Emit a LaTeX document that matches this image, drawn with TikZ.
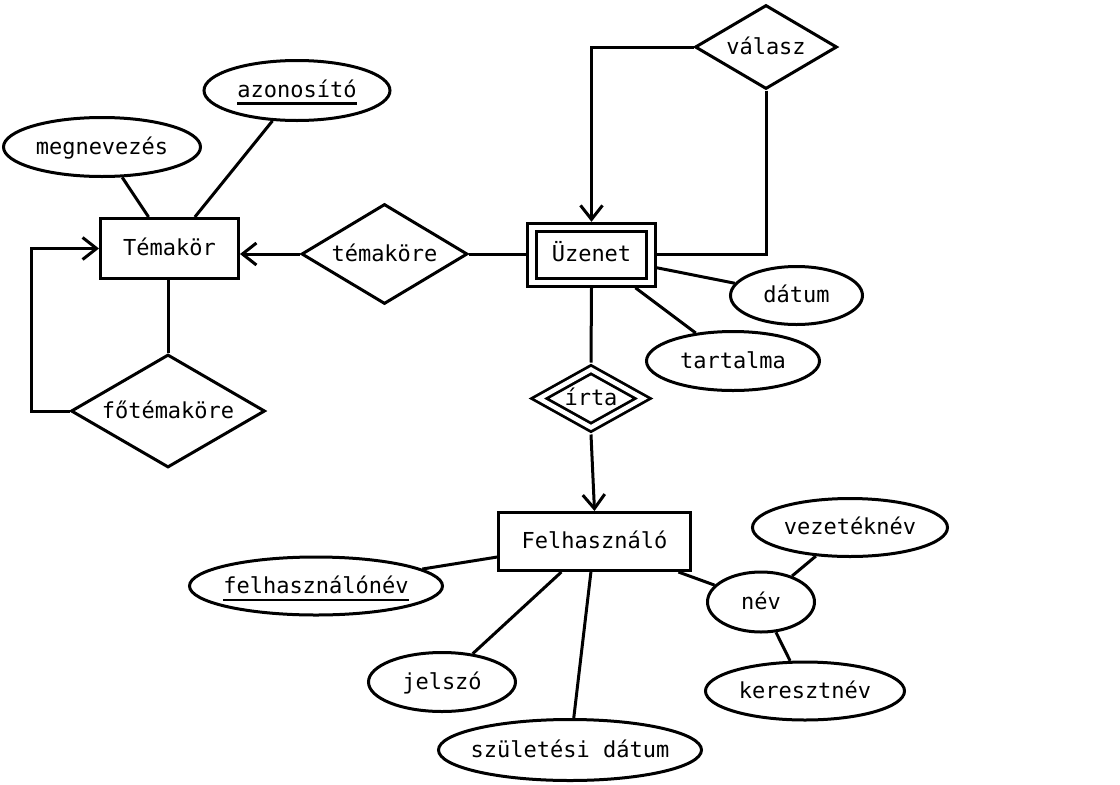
\documentclass[tikz,border=0pt]{standalone}
\usepackage{fontspec}
\newfontfamily\erfont{DejaVu Sans Mono}
\usetikzlibrary{shapes.geometric,arrows.meta,calc}
\begin{document}
\begin{tikzpicture}[x=1pt,y=-1pt,
  lw/.style={line width=3pt},
  every node/.style={font=\erfont\fontsize{22}{26}\selectfont, text height=17pt, text depth=3pt},
  ent/.style={draw, lw, rectangle, inner sep=0pt},
  wkent/.style={draw, line width=3pt, double, double distance=5.3pt, rectangle, inner sep=0pt, outer sep=5.5pt},
  rel/.style={draw, lw, diamond, inner sep=0pt},
  wkrel/.style={draw, line width=2.8pt, double, double distance=4.5pt, diamond, inner sep=0pt, outer sep=5pt},
  attr/.style={draw, lw, ellipse, inner sep=0pt},
  conn/.style={lw},
  arr/.style={-{Straight Barb[length=14pt,width=22pt]}},
  uline/.style={line width=2.5pt},
]
\useasboundingbox (0,0) rectangle (1120,785);

% entities
\node[ent, minimum width=138pt, minimum height=60pt] (tk) at (169.5,248.5) {Témakör};
\node[wkent, minimum width=119pt, minimum height=55pt] (uz) at (591.5,254.8) {Üzenet};
\node[ent, minimum width=192pt, minimum height=58pt] (fe) at (594.5,541.5) {Felhasználó};

% relationships
\node[rel, aspect=1.66, minimum width=166pt, minimum height=100pt] (tm) at (384.5,254) {témaköre};
\node[rel, aspect=1.72, minimum width=194pt, minimum height=113pt] (ft) at (168,411) {főtémaköre};
\node[rel, aspect=1.7, minimum width=142pt, minimum height=84pt] (va) at (766,47) {válasz};
\node[wkrel, aspect=1.73, minimum width=108pt, minimum height=62pt] (ir) at (591,398.5) {írta};

% attributes
\node[attr, minimum width=197pt, minimum height=59pt, label={center:megnevezés}] (mn) at (102,147) {};
\node[attr, minimum width=186pt, minimum height=60pt, label={center:azonosító}] (az) at (297,90.5) {};
\node[attr, minimum width=132pt, minimum height=58pt, label={center:dátum}] (da) at (796.5,295.5) {};
\node[attr, minimum width=173pt, minimum height=59pt, label={center:tartalma}] (ta) at (733,361) {};
\node[attr, minimum width=253pt, minimum height=58pt, label={center:felhasználónév}] (fn) at (316,586) {};
\node[attr, minimum width=147pt, minimum height=59pt, label={center:jelszó}] (js) at (442,682) {};
\node[attr, minimum width=263pt, minimum height=61pt, label={center:születési dátum}] (sz) at (570,750) {};
\node[attr, minimum width=107pt, minimum height=60pt, label={center:név}] (nv) at (761,602) {};
\node[attr, minimum width=195pt, minimum height=58pt, label={center:vezetéknév}] (vz) at (850,527.5) {};
\node[attr, minimum width=199pt, minimum height=58pt, label={center:keresztnév}] (kr) at (805,691) {};

% key underlines
\draw[uline] ([xshift=-59.6pt,yshift=-13pt]az.center) -- ++(119.2,0);
\draw[uline] ([xshift=-92.7pt,yshift=-14pt]fn.center) -- ++(185.4,0);

% connectors
\draw[conn] (mn) -- (tk);
\draw[conn] (az) -- (tk);
\draw[conn] (ft.north) -- (ft.north |- tk.south);
\draw[conn, arr] (ft.west) -- ++(-38,0) |- (tk.west);
\draw[conn, arr] (tm.west) -- (tm.west -| tk.east);
\draw[conn] (tm.east) -- (tm.east -| uz.west);
\draw[conn, arr] (va.west) -| (uz.north);
\draw[conn] (va.south) |- (uz.east);
\draw[conn] (uz) -- (da);
\draw[conn] (uz) -- (ta);
\draw[conn] (uz.south) -- (ir.north);
\draw[conn, arr] (ir.south) -- (fe.north);
\draw[conn] (fe) -- (fn);
\draw[conn] (fe) -- (js);
\draw[conn] (fe) -- (sz);
\draw[conn] (fe) -- (nv);
\draw[conn] (nv) -- (vz);
\draw[conn] (nv) -- (kr);
\end{tikzpicture}
\end{document}
